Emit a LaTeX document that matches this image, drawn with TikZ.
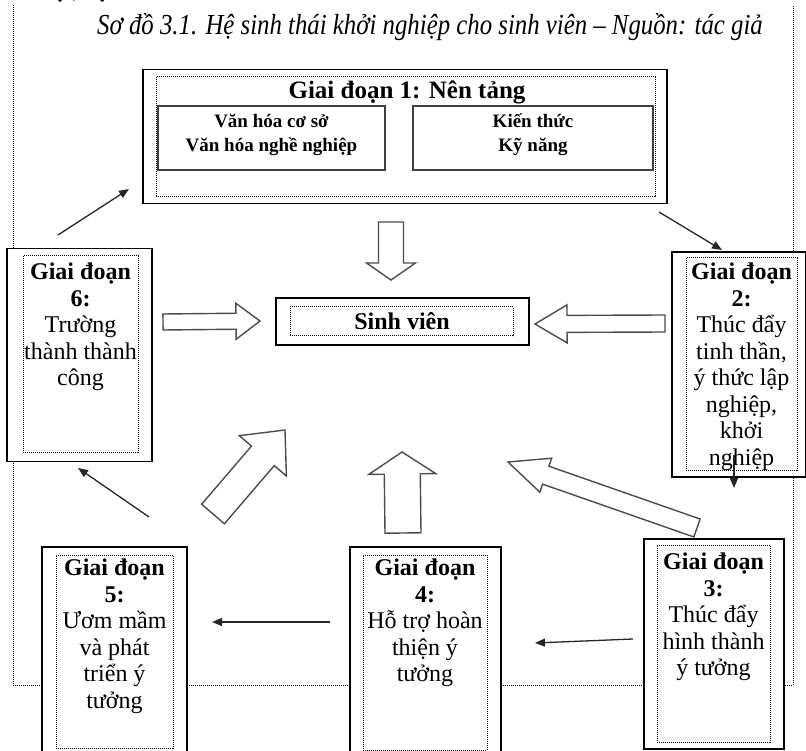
\documentclass[tikz,border=0pt]{standalone}
\usepackage{fontspec}
\setmainfont{Liberation Serif}
\newfontfamily\titlefont[FakeStretch=0.855]{Liberation Serif}
\usetikzlibrary{arrows.meta}
\tikzset{
  solidbox/.style={draw=black, line width=1.6pt, fill=white, inner sep=0pt},
  dotbox/.style={draw=black, densely dotted, line width=1pt, inner sep=0pt},
  subbox/.style={draw=black!75, line width=1.6pt, fill=white, inner sep=0pt},
  blk/.style={draw=black!70, line width=1.4pt, fill=white, line join=miter},
  thin/.style={draw=black!85, line width=1.3pt, -{Triangle[length=10pt,width=8pt]}},
  stagetxt/.style={anchor=north, align=center, inner sep=0pt, font=\fontsize{24}{26.5}\selectfont},
  frame/.style={draw=black, densely dotted, line width=1pt}
}
\newcommand\blkarrow[7]{%
  \pgfmathsetmacro\bdx{#3-#1}\pgfmathsetmacro\bdy{#2-#4}%
  \pgfmathsetmacro\bang{atan2(\bdy,\bdx)}\pgfmathsetmacro\blen{veclen(\bdx,\bdy)}%
  \begin{scope}[shift={(#1,#2)},rotate=\bang]
    \draw[blk] (0,-#5)--(\blen-#7,-#5)--(\blen-#7,-#6)--(\blen,0)--(\blen-#7,#6)--(\blen-#7,#5)--(0,#5)--cycle;
  \end{scope}}
\begin{document}
\begin{tikzpicture}[x=1pt,y=-1pt]
\useasboundingbox (0,0) rectangle (806,751);
\clip (0,0) rectangle (806,751);
% clipped line of text at the very top
\node[anchor=base west, inner sep=0pt, font=\fontsize{24}{26}\selectfont\bfseries] (toptext) at (0,-2) {Hà Nội, cụ thể như sau:};
% outer dotted frame
\draw[frame] (13,5) -- (13,685) -- (793,685) -- (793,5);
% caption
\node[inner sep=0pt, font=\titlefont\itshape\fontsize{29}{30}\selectfont] (caption) at (430,27) {Sơ đồ 3.1. Hệ sinh thái khởi nghiệp cho sinh viên – Nguồn: tác giả};

% stage 1
\node[solidbox, minimum width=524pt, minimum height=134pt] (s1) at (405,136.5) {};
\node[dotbox, minimum width=499pt, minimum height=120pt] (s1in) at (405.5,137) {};
\node[inner sep=0pt, font=\fontsize{25}{26}\selectfont\bfseries] (s1t) at (407,92) {Giai đoạn 1: Nên tảng};
\node[subbox, minimum width=227pt, minimum height=64pt] (vh) at (271.5,138) {};
\node[subbox, minimum width=240pt, minimum height=64pt] (kt) at (533,138) {};
\node[align=center, inner sep=0pt, font=\fontsize{19}{24}\selectfont\bfseries] (vht) at (271.5,135) {Văn hóa cơ sở\\Văn hóa nghề nghiệp};
\node[align=center, inner sep=0pt, font=\fontsize{19}{24}\selectfont\bfseries] (ktt) at (533,135) {Kiến thức\\Kỹ năng};

% Sinh vien
\node[solidbox, minimum width=253pt, minimum height=47pt] (sv) at (402.5,321.5) {};
\node[dotbox, minimum width=223pt, minimum height=29pt] (svin) at (401.5,321.5) {};
\node[inner sep=0pt, font=\fontsize{24}{26}\selectfont\bfseries] (svt) at (402,321) {Sinh viên};

% stage 6
\node[solidbox, minimum width=145pt, minimum height=213pt] (s6) at (79.5,355) {};
\node[dotbox, minimum width=115pt, minimum height=196pt] (s6in) at (80.5,354) {};
\node[stagetxt] (s6t) at (80.5,263) {\textbf{Giai đoạn}\\\textbf{6:}\\Trường\\thành thành\\công};

% stage 2
\node[solidbox, minimum width=134pt, minimum height=225pt] (s2) at (739,364.5) {};
\node[dotbox, minimum width=111pt, minimum height=212pt] (s2in) at (741.5,364) {};
\node[stagetxt] (s2t) at (741.5,263) {\textbf{Giai đoạn}\\\textbf{2:}\\Thúc đẩy\\tinh thần,\\ý thức lập\\nghiệp,\\khởi\\nghiệp};

% stage 3
\node[solidbox, minimum width=140pt, minimum height=210pt] (s3) at (714,644) {};
\node[dotbox, minimum width=113pt, minimum height=197pt] (s3in) at (713.5,643.5) {};
\node[stagetxt] (s3t) at (713.5,553) {\textbf{Giai đoạn}\\\textbf{3:}\\Thúc đẩy\\hình thành\\ý tưởng};

% stage 4
\node[solidbox, minimum width=151pt, minimum height=220pt] (s4) at (425.5,657) {};
\node[dotbox, minimum width=124pt, minimum height=195pt] (s4in) at (425,652.5) {};
\node[stagetxt] (s4t) at (425,559) {\textbf{Giai đoạn}\\\textbf{4:}\\Hỗ trợ hoàn\\thiện ý\\tưởng};

% stage 5
\node[solidbox, minimum width=145pt, minimum height=220pt] (s5) at (114.5,657) {};
\node[dotbox, minimum width=117pt, minimum height=193pt] (s5in) at (114.5,651.5) {};
\node[stagetxt] (s5t) at (114.5,559) {\textbf{Giai đoạn}\\\textbf{5:}\\Ươm mầm\\và phát\\triển ý\\tưởng};

% block arrows
\blkarrow{391}{222}{391}{280}{12.5}{24.5}{17}
\blkarrow{163}{322}{260}{321}{8}{18}{24}
\blkarrow{665}{323.5}{535}{324}{8.5}{19}{32}
\blkarrow{403}{533}{402}{452}{18}{33.5}{22}
\blkarrow{213}{514}{285}{430}{15}{31}{34}
\blkarrow{697}{528}{508}{462}{9.5}{18}{40}

% thin arrows
\coordinate (a61) at (58,235);  \coordinate (a61e) at (129,189);
\coordinate (a12) at (659,212); \coordinate (a12e) at (722,250);
\coordinate (a23) at (734,455); \coordinate (a23e) at (734,488);
\coordinate (a34) at (633,639); \coordinate (a34e) at (535,643);
\coordinate (a45) at (330,622); \coordinate (a45e) at (212,622);
\coordinate (a56) at (149,517); \coordinate (a56e) at (78,468);
\draw[thin] (a61) -- (a61e);
\draw[thin] (a12) -- (a12e);
\draw[thin] (a23) -- (a23e);
\draw[thin] (a34) -- (a34e);
\draw[thin] (a45) -- (a45e);
\draw[thin] (a56) -- (a56e);
\end{tikzpicture}
\end{document}
